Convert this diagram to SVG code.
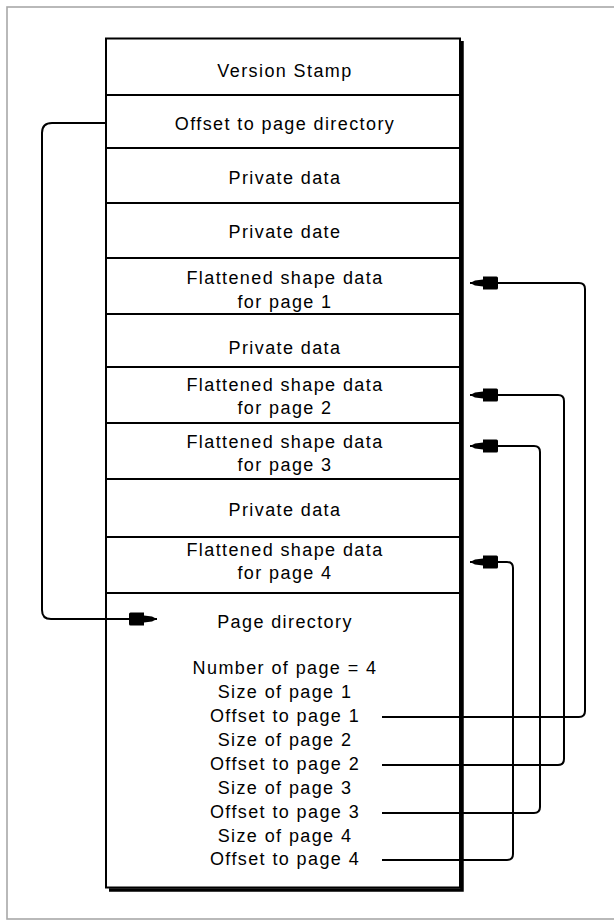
<svg xmlns="http://www.w3.org/2000/svg" width="614" height="921" viewBox="0 0 614 921">
  <style>
    .t { font-family: "Liberation Sans", Arial, sans-serif; font-size: 18px; letter-spacing: 1.4px; text-anchor: middle; fill: #000; }
    .ln { stroke: #000; stroke-width: 2; fill: none; }
    .cn { stroke: #000; stroke-width: 2; fill: none; marker-end: url(#ah); }
  </style>
  <defs>
    <marker id="ah" markerUnits="userSpaceOnUse" markerWidth="30" markerHeight="16" viewBox="0 0 30 16" refX="29" refY="8" orient="auto">
      <path d="M29,8 L24,5.5 L16,4.5 L16,1.5 L2.5,1.5 Q1,1.5 1,3 L1,13 Q1,14.5 2.5,14.5 L16,14.5 L16,11.5 L24,10.5 Z" fill="#000"/>
    </marker>
  </defs>
  <rect width="614" height="921" fill="#fff"/>
  <!-- outer frame -->
  <rect x="7" y="7" width="700" height="912" fill="none" stroke="#a8a8a8" stroke-width="1.6"/>

  <!-- main box -->
  <g id="box">
    <rect x="106" y="38.5" width="354" height="849" fill="#fff" stroke="#000" stroke-width="2"/>
    <path d="M462,41 V890 H109" fill="none" stroke="#000" stroke-width="3.5"/>
  </g>

  <g id="version-stamp">
    <text class="t" x="285" y="77">Version Stamp</text>
  </g>
  <g id="offset-dir">
    <line class="ln" x1="106" y1="95" x2="460" y2="95"/>
    <text class="t" x="285" y="130">Offset to page directory</text>
  </g>
  <g id="private1">
    <line class="ln" x1="106" y1="148" x2="460" y2="148"/>
    <text class="t" x="285" y="184">Private data</text>
  </g>
  <g id="private2">
    <line class="ln" x1="106" y1="203" x2="460" y2="203"/>
    <text class="t" x="285" y="238">Private date</text>
  </g>
  <g id="flat1">
    <line class="ln" x1="106" y1="258" x2="460" y2="258"/>
    <text class="t" x="285" y="284">Flattened shape data</text>
    <text class="t" x="285" y="308">for page 1</text>
  </g>
  <g id="private3">
    <line class="ln" x1="106" y1="314" x2="460" y2="314"/>
    <text class="t" x="285" y="354">Private data</text>
  </g>
  <g id="flat2">
    <line class="ln" x1="106" y1="367" x2="460" y2="367"/>
    <text class="t" x="285" y="391">Flattened shape data</text>
    <text class="t" x="285" y="414">for page 2</text>
  </g>
  <g id="flat3">
    <line class="ln" x1="106" y1="423" x2="460" y2="423"/>
    <text class="t" x="285" y="448">Flattened shape data</text>
    <text class="t" x="285" y="471">for page 3</text>
  </g>
  <g id="private4">
    <line class="ln" x1="106" y1="479" x2="460" y2="479"/>
    <text class="t" x="285" y="516">Private data</text>
  </g>
  <g id="flat4">
    <line class="ln" x1="106" y1="537" x2="460" y2="537"/>
    <text class="t" x="285" y="556">Flattened shape data</text>
    <text class="t" x="285" y="579">for page 4</text>
  </g>
  <g id="page-directory">
    <line class="ln" x1="106" y1="593" x2="460" y2="593"/>
    <text class="t" x="285" y="628">Page directory</text>
    <text class="t" x="285" y="674">Number of page = 4</text>
    <text class="t" x="285" y="698">Size of page 1</text>
    <text class="t" x="285" y="722">Offset to page 1</text>
    <text class="t" x="285" y="746">Size of page 2</text>
    <text class="t" x="285" y="770">Offset to page 2</text>
    <text class="t" x="285" y="794">Size of page 3</text>
    <text class="t" x="285" y="818">Offset to page 3</text>
    <text class="t" x="285" y="842">Size of page 4</text>
    <text class="t" x="285" y="865">Offset to page 4</text>
  </g>

  <g id="connectors">
    <path class="cn" d="M106,123 H52 Q42,123 42,133 V610 Q42,619 51,619 H157"/>
    <path class="cn" d="M382,717 H579 Q585,717 585,711 V289 Q585,283 579,283 H470"/>
    <path class="cn" d="M382,765 H558 Q564,765 564,759 V401 Q564,395 558,395 H470"/>
    <path class="cn" d="M382,813 H534 Q540,813 540,807 V452 Q540,446 534,446 H470"/>
    <path class="cn" d="M382,860 H507 Q513,860 513,854 V568 Q513,562 507,562 H470"/>
  </g>
</svg>
